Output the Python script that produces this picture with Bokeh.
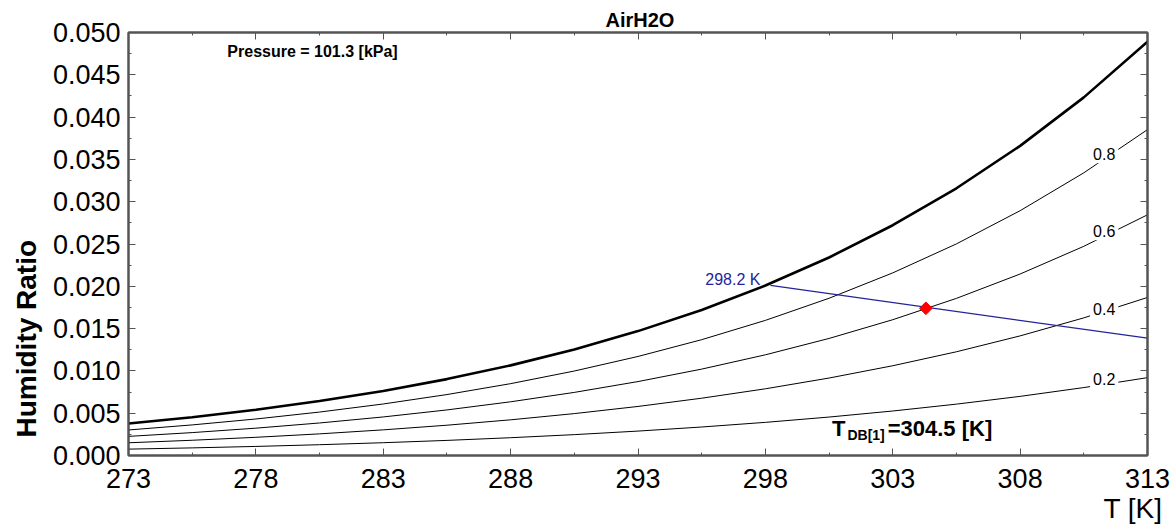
from math import pi
from bokeh.plotting import figure
from bokeh.models import (LinearAxis, FixedTicker, PrintfTickFormatter, Label, Title,
                          Range1d, ColumnDataSource)
from bokeh.embed import file_html
from bokeh.resources import INLINE

# ---------------- data ----------------
T_K = [273.0, 275.5, 278.0, 280.5, 283.0, 285.5, 288.0, 290.5, 293.0,
       295.5, 298.0, 300.5, 303.0, 305.5, 308.0, 310.5, 313.0]
W_SAT = [0.003776, 0.004525, 0.005404, 0.006433, 0.007633, 0.009031, 0.010653,
         0.012532, 0.014703, 0.017208, 0.020093, 0.023408, 0.027218, 0.031586,
         0.036597, 0.042334, 0.048910]
W_RH80 = [0.003017, 0.003615, 0.004316, 0.005135, 0.006091, 0.007204, 0.008494,
          0.009985, 0.011707, 0.013690, 0.015971, 0.018587, 0.021586, 0.025014,
          0.028937, 0.033413, 0.038522]
W_RH60 = [0.002260, 0.002707, 0.003231, 0.003844, 0.004557, 0.005387, 0.006348,
          0.007459, 0.008739, 0.010212, 0.011902, 0.013837, 0.016050, 0.018574,
          0.021453, 0.024727, 0.028451]
W_RH40 = [0.001505, 0.001802, 0.002150, 0.002557, 0.003031, 0.003581, 0.004218,
          0.004953, 0.005799, 0.006771, 0.007884, 0.009156, 0.010609, 0.012261,
          0.014140, 0.016269, 0.018683]
W_RH20 = [0.000752, 0.000900, 0.001073, 0.001276, 0.001512, 0.001785, 0.002102,
          0.002467, 0.002886, 0.003367, 0.003917, 0.004545, 0.005260, 0.006071,
          0.006990, 0.008030, 0.009203]

RH_LABELS = ["0.8", "0.6", "0.4", "0.2"]
RH_LABEL_T = [311.3, 311.3, 311.3, 311.3]
RH_LABEL_W = [0.0356, 0.0265, 0.01735, 0.0090]

WB_T = [298.2, 313.0]
WB_W = [0.0201, 0.01387]
WB_TEXT = "298.2 K"

STATE_T = [304.3]
STATE_W = [0.0174]

X_TICKS = [273, 278, 283, 288, 293, 298, 303, 308, 313]
X_MINOR = [275.5, 280.5, 285.5, 290.5, 295.5, 300.5, 305.5, 310.5]
Y_TICKS = [0.000, 0.005, 0.010, 0.015, 0.020, 0.025, 0.030, 0.035, 0.040, 0.045, 0.050]
Y_MINOR = [0.0025, 0.0075, 0.0125, 0.0175, 0.0225, 0.0275, 0.0325, 0.0375, 0.0425, 0.0475]

TITLE = "AirH2O"
PRESSURE_TEXT = "Pressure = 101.3 [kPa]"
Y_LABEL = "Humidity Ratio"
X_LABEL = "T [K]"

FONT = "Liberation Sans"
AX = "#555555"

# ---------------- figure ----------------
p = figure(width=1176, height=524, x_range=Range1d(273, 313), y_range=Range1d(0, 0.05),
           output_backend="svg", toolbar_location=None,
           x_axis_type=None, y_axis_type=None,
           min_border_left=128, min_border_right=29, min_border_top=32, min_border_bottom=69)
p.background_fill_color = "white"
p.border_fill_color = "white"
p.outline_line_color = AX
p.outline_line_width = 2

p.title.text = TITLE
p.title.align = "left"
p.title.offset = 477
p.title.standoff = 3
p.title.text_font = FONT
p.title.text_font_size = "20px"
p.title.text_font_style = "bold"
p.title.text_color = "black"


def style(ax, ticks, minor, fmt, show):
    ax.ticker = FixedTicker(ticks=ticks, minor_ticks=minor)
    ax.formatter = PrintfTickFormatter(format=fmt)
    ax.axis_line_color = AX
    ax.axis_line_width = 2
    ax.major_tick_line_color = AX
    ax.minor_tick_line_color = AX
    ax.major_tick_line_width = 1
    ax.minor_tick_line_width = 1
    ax.major_tick_in = 7
    ax.major_tick_out = 0
    ax.minor_tick_in = 3
    ax.minor_tick_out = 0
    ax.major_label_text_font = FONT
    ax.major_label_text_font_size = "27px"
    ax.major_label_text_color = "black"
    if not show:
        ax.major_label_overrides = {t: "" for t in ticks}
        ax.major_label_text_font_size = "0px"
        ax.major_label_standoff = 0


xb = LinearAxis()
style(xb, X_TICKS, X_MINOR, "%d", True)
xb.major_label_standoff = 13
p.add_layout(xb, "below")

yl = LinearAxis()
style(yl, Y_TICKS, Y_MINOR, "%.3f", True)
yl.major_label_standoff = 8
p.add_layout(yl, "left")

xt = LinearAxis()
style(xt, X_TICKS, X_MINOR, "%d", False)
p.add_layout(xt, "above")

yr = LinearAxis()
style(yr, Y_TICKS, Y_MINOR, "%.3f", False)
p.add_layout(yr, "right")

# axis titles as side-panel titles
p.add_layout(Title(text=Y_LABEL, align="left", offset=18, standoff=16,
                   text_font=FONT, text_font_size="28px", text_font_style="bold",
                   text_color="black"), "left")
p.add_layout(Title(text=X_LABEL, align="right", offset=-15, standoff=0,
                   text_font=FONT, text_font_size="28px", text_font_style="normal",
                   text_color="black"), "below")

# ---------------- curves ----------------
src = ColumnDataSource(dict(t=T_K, sat=W_SAT, r80=W_RH80, r60=W_RH60, r40=W_RH40, r20=W_RH20))
for col in ["r80", "r60", "r40", "r20"]:
    p.line("t", col, source=src, line_color="black", line_width=1)
p.line("t", "sat", source=src, line_color="black", line_width=2.6)

# wet-bulb line and state point
p.line(WB_T, WB_W, line_color="#24249a", line_width=1.2)
p.scatter(STATE_T, STATE_W, marker="square", angle=pi / 4, size=9,
          fill_color="#ff0000", line_color="#ff0000")

# RH labels (white background makes the gap in the curves)
for txt, tx, wy in zip(RH_LABELS, RH_LABEL_T, RH_LABEL_W):
    p.add_layout(Label(x=tx, y=wy, text=txt, text_font=FONT, text_font_size="16px",
                       text_color="black", text_align="center", text_baseline="middle",
                       background_fill_color="white", padding=3))

p.add_layout(Label(x=WB_T[0], y=WB_W[0], text=WB_TEXT, x_offset=-10, y_offset=6,
                   text_font=FONT, text_font_size="16px", text_color="#24249a",
                   text_align="right", text_baseline="middle"))

p.add_layout(Label(x=276.88, y=0.04775, text=PRESSURE_TEXT, text_font=FONT,
                   text_font_size="16px", text_font_style="bold", text_color="black",
                   text_align="left", text_baseline="middle"))

# T_DB[1] annotation
p.add_layout(Label(x=300.62, y=0.00319, text="T", text_font=FONT,
                   text_font_size="22px", text_font_style="bold", text_color="black",
                   text_align="left", text_baseline="middle"))
p.add_layout(Label(x=301.22, y=0.00240, text="DB[1]", text_font=FONT,
                   text_font_size="14px", text_font_style="bold", text_color="black",
                   text_align="left", text_baseline="middle"))
p.add_layout(Label(x=302.80, y=0.00319, text="=304.5 [K]", text_font=FONT,
                   text_font_size="22px", text_font_style="bold", text_color="black",
                   text_align="left", text_baseline="middle"))

open("out.html", "w").write(file_html(p, INLINE))
